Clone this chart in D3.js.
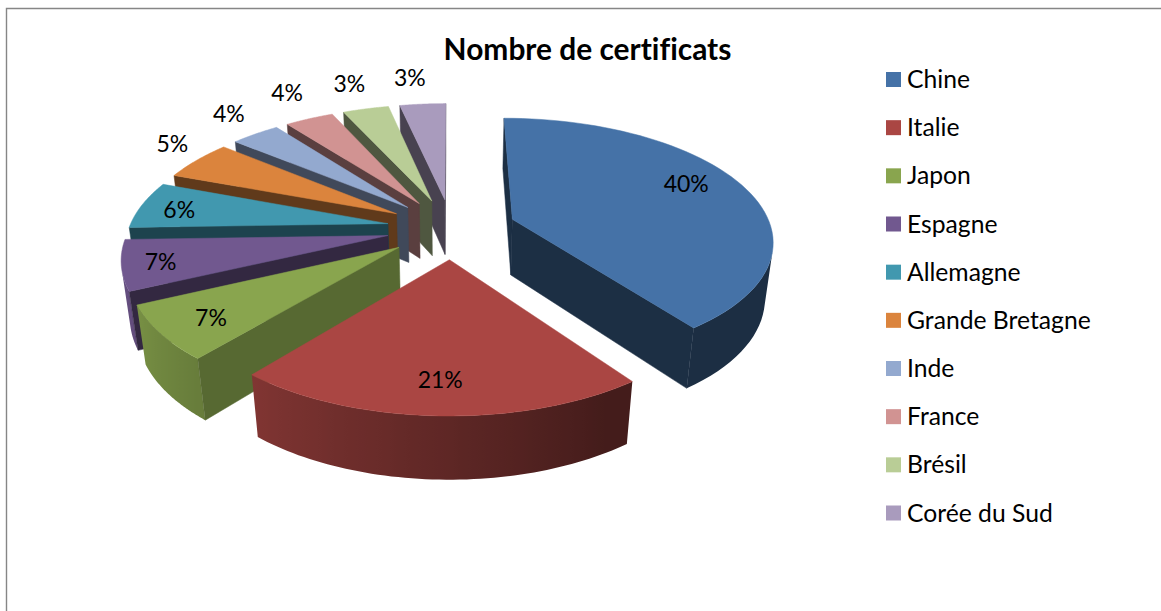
<!DOCTYPE html>
<html><head><meta charset="utf-8">
<script src="https://cdnjs.cloudflare.com/ajax/libs/d3/7.8.5/d3.min.js"></script>
<style>html,body{margin:0;background:#fff}svg{display:block}text{font-family:Lato,"Open Sans",sans-serif;fill:#000;font-variant-ligatures:none}</style>
</head><body><svg id="c" width="1161" height="611"></svg>
<script>
// ---- data ----
const categories = ["Chine","Italie","Japon","Espagne","Allemagne","Grande Bretagne","Inde","France","Brésil","Corée du Sud"];
const shares = [40,21,7,6.5,6.2,5.3,3.6,3.6,3.4,3.4];
const colors = ["#4572A7","#AA4643","#89A54E","#71588F","#4198AF","#DB843D","#93A9CF","#D19392","#B9CD96","#A99BBD"];
const chartTitle = "Nombre de certificats";

// ---- layout ----
const svg = d3.select("#c");
const defs = svg.append("defs");
const explode = 0.25, persp = 0.16, perspZ = 0.026, depthPx = 57.5;
const sx = d3.scaleLinear().domain([-1,1]).range([451.5-259,451.5+259]);
const sy = d3.scaleLinear().domain([-1,1]).range([228.5-120,228.5+120]);
// world (X right, Y toward viewer, Z 0 = top face, 1 = bottom face) -> screen
function project(X,Y,Z){
  const w = 1 - persp*Y + perspZ*Z;
  return [sx(X/w), sy(Y/w) + depthPx*Z/w];
}
const line = d3.line();
const rimShade = d3.scaleLinear().domain([0,150,220,250,360]).range([.40,.40,.76,.9,.95]);
const faceShade = d3.scaleLinear().domain([0,200,220,245,360]).range([.41,.41,.64,.45,.42]);
const shade = (c,f)=>{const r=d3.rgb(c);return d3.rgb(r.r*f,r.g*f,r.b*f).formatHex();};
const deg = a=>a*180/Math.PI;
const pct = d3.format(".0f");

const arcs = d3.pie().sort(null).startAngle(0).endAngle(2*Math.PI).value(d=>d)(shares)
 .map((a,i)=>{
   const mid=(a.startAngle+a.endAngle)/2;
   return {...a,i,mid,ox:explode*Math.sin(mid),oy:-explode*Math.cos(mid)};
 });
// world position inside a slice: r from its tip, at pie angle t
const pt=(a,r,t,Z)=>project(a.ox+r*Math.sin(t),a.oy-r*Math.cos(t),Z);
const rimAngles=a=>d3.range(0,61).map(k=>a.startAngle+(a.endAngle-a.startAngle)*k/60);

const order = arcs.slice().sort((p,q)=>p.oy-q.oy);
const gPie = svg.append("g");
order.forEach(a=>{
  const g=gPie.append("g"), col=colors[a.i], ts=rimAngles(a);
  // outer wall: only the part turned toward the viewer
  const vis=ts.filter((t,k)=>k<60 && d3.polygonArea([pt(a,1,t,0),pt(a,1,ts[k+1],0),pt(a,1,ts[k+1],1),pt(a,1,t,1)])>0);
  if(vis.length){
    const step=ts[1]-ts[0], vt=[...vis,vis[vis.length-1]+step];
    const x0=pt(a,1,vt[0],0)[0], x1=pt(a,1,vt[vt.length-1],0)[0], id="rim"+a.i;
    const gr=defs.append("linearGradient").attr("id",id).attr("gradientUnits","userSpaceOnUse")
      .attr("x1",x0).attr("x2",x1).attr("y1",0).attr("y2",0);
    vt.forEach(t=>gr.append("stop").attr("offset",(pt(a,1,t,0)[0]-x0)/(x1-x0))
      .attr("stop-color",shade(col,rimShade(deg(t)))));
    g.append("path").attr("d",line([...vt.map(t=>pt(a,1,t,0)),...vt.slice().reverse().map(t=>pt(a,1,t,1))])+"Z")
     .attr("fill",`url(#${id})`);
  }
  // straight walls: only those turned toward the viewer
  [[a.startAngle,1],[a.endAngle,-1]].forEach(([t,sign])=>{
    const q=[pt(a,0,t,0),pt(a,1,t,0),pt(a,1,t,1),pt(a,0,t,1)];
    if(d3.polygonArea(q)*sign>0){
      const c=shade(col,faceShade(deg(t)));
      g.append("path").attr("d",line(q)+"Z").attr("fill",c).attr("stroke",c).attr("stroke-width",.5);
    }
  });
  g.append("path").attr("d",line([pt(a,0,0,0),...ts.map(t=>pt(a,1,t,0))])+"Z")
   .attr("fill",col).attr("stroke",col).attr("stroke-width",.5);
});

// data labels: radius from tip and small pixel nudge, per slice order
const labelPlace=[[.75,0,-9],[.8,-1,0],[.8,-1,3],[.85,-2,1],[.85,1,2],[1.15,3,-9],[1.15,-6,-10],[1.15,-8,-15],[1.15,-8,-13],[1.15,-10,-14]];
arcs.forEach(a=>{
  const [r,dx,dy]=labelPlace[a.i], p=pt(a,r,a.mid,0);
  svg.append("text").attr("x",p[0]+dx).attr("y",p[1]+dy).attr("dy",".35em")
   .attr("text-anchor","middle").attr("font-size",23).text(pct(a.value)+"%");
});

svg.append("text").attr("x",587.5).attr("y",60).attr("text-anchor","middle")
 .attr("font-size",29.9).attr("font-weight",700).text(chartTitle);

const ly=d3.scalePoint().domain(categories).range([79.5,513]);
const sw=15;
const leg=svg.append("g").selectAll("g").data(categories).join("g")
 .attr("transform",d=>`translate(886,${ly(d)})`);
leg.append("rect").attr("y",-sw/2).attr("width",sw).attr("height",sw).attr("fill",(d,i)=>colors[i]);
leg.append("text").attr("x",21).attr("dy",".35em").attr("font-size",24.7).text(d=>d);

// outer frame (top and left only are in view)
svg.append("path").attr("d",line([[6.5,611],[6.5,8.5],[1161,8.5]])).attr("fill","none").attr("stroke","#868686").attr("stroke-width",1.4);
</script></body></html>
